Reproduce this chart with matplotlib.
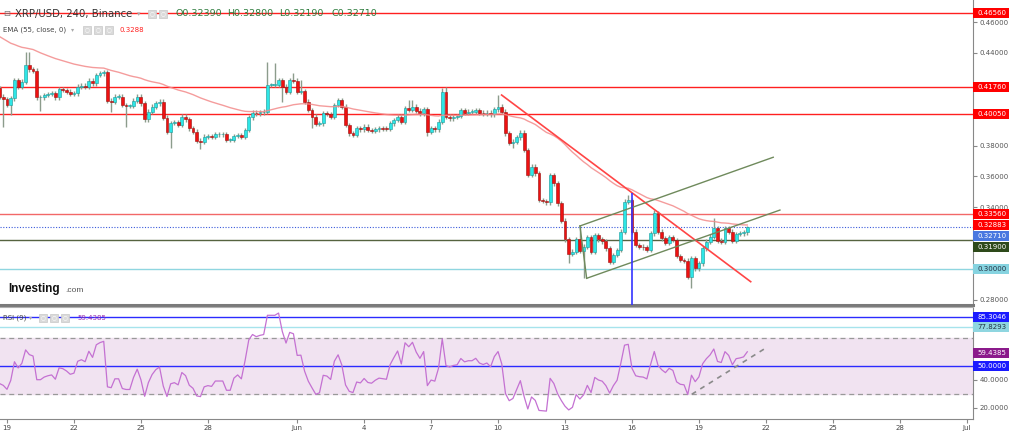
import numpy as np
import matplotlib
matplotlib.use("Agg")
import matplotlib.pyplot as plt
from matplotlib.patches import Rectangle

# 4h candles. open of each bar = previous close
first_open = 0.4170
closes = [
    0.4116, 0.4099, 0.4062, 0.4106, 0.4224, 0.4181, 0.4213, 0.4321, 0.4293, 0.4285,
    0.4112, 0.4112, 0.4127, 0.4134, 0.4138, 0.4112, 0.4164, 0.4160, 0.4149, 0.4134,
    0.4138, 0.4181, 0.4187, 0.4181, 0.4220, 0.4203, 0.4257, 0.4268, 0.4274, 0.4090,
    0.4084, 0.4117, 0.4117, 0.4062, 0.4056, 0.4056, 0.4090, 0.4117, 0.4073, 0.3970,
    0.4019, 0.4052, 0.4073, 0.4084, 0.3980, 0.3890, 0.3945, 0.3950, 0.3935, 0.3987,
    0.3970, 0.3911, 0.3890, 0.3831, 0.3825, 0.3857, 0.3861, 0.3857, 0.3872, 0.3872,
    0.3872, 0.3836, 0.3836, 0.3861, 0.3868, 0.3857, 0.3900, 0.3982, 0.4013, 0.4008,
    0.4015, 0.4019, 0.4192, 0.4192, 0.4192, 0.4224, 0.4181, 0.4149, 0.4224, 0.4220,
    0.4149, 0.4150, 0.4084, 0.4030, 0.3987, 0.3939, 0.3944, 0.4008, 0.4004, 0.3987,
    0.4062, 0.4095, 0.4052, 0.3933, 0.3879, 0.3868, 0.3911, 0.3905, 0.3922, 0.3900,
    0.3896, 0.3905, 0.3911, 0.3909, 0.3907, 0.3944, 0.3965, 0.3987, 0.3954, 0.4041,
    0.4030, 0.4052, 0.4026, 0.4008, 0.4034, 0.3890, 0.3911, 0.3905, 0.3954, 0.4149,
    0.3987, 0.3976, 0.3987, 0.3991, 0.4030, 0.4013, 0.4019, 0.4019, 0.4030, 0.4013,
    0.4008, 0.4013, 0.4002, 0.4034, 0.4052, 0.4019, 0.3879, 0.3818, 0.3825, 0.3853,
    0.3883, 0.3771, 0.3609, 0.3663, 0.3620, 0.3447, 0.3440, 0.3433, 0.3609, 0.3555,
    0.3426, 0.3313, 0.3192, 0.3097, 0.3113, 0.3192, 0.3119, 0.3145, 0.3205, 0.3113,
    0.3220, 0.3192, 0.3180, 0.3134, 0.3048, 0.3091, 0.3123, 0.3242, 0.3436, 0.3447,
    0.3242, 0.3156, 0.3145, 0.3141, 0.3123, 0.3231, 0.3361, 0.3242, 0.3199, 0.3171,
    0.3205, 0.3188, 0.3084, 0.3059, 0.3054, 0.2951, 0.3069, 0.3005, 0.3037, 0.3134,
    0.3177, 0.3210, 0.3264, 0.3184, 0.3177, 0.3264, 0.3242, 0.3184, 0.3227, 0.3232,
    0.3239, 0.3271,
]
# long wicks (bar index -> price)
wick_high = {7: 0.4404, 8: 0.4404, 72: 0.4343, 74: 0.4337, 79: 0.4268, 81: 0.4224,
             110: 0.4095, 111: 0.4095, 119: 0.4170, 120: 0.4181, 134: 0.4127,
             156: 0.3279, 169: 0.3480, 176: 0.3380, 192: 0.3328, 201: 0.3280}
wick_low = {1: 0.3918, 3: 0.3998, 11: 0.4026, 30: 0.4019, 34: 0.3918, 46: 0.3782,
            54: 0.3775, 76: 0.4084, 84: 0.3911, 115: 0.3862, 138: 0.3782,
            153: 0.3037, 157: 0.2940, 186: 0.2875, 201: 0.3219}
last_bar_day = 33.167      # Jun 21 04:00, days after May 19
bar_len = 1 / 6.0

ema_len, ema_seed = 55, 0.4520
rsi_len, rsi_seed_gain, rsi_seed_loss = 9, 0.0025, 0.0035

# horizontal levels and drawings
levels = [0.46560, 0.41760, 0.40050, 0.33560, 0.31900, 0.30000]
level_colors = ['#ff2020', '#ff2020', '#ff2020', '#f26868', '#56633f', '#8fd6e0']
ema_last = 0.32883
price_last = 0.32710
down_line = ([22.16, 33.32], [0.4127, 0.2918])
channel_top = ([25.67, 34.33], [0.3279, 0.3724])
channel_bot = ([25.97, 34.63], [0.2940, 0.3382])
channel_side = ([25.67, 25.97], [0.3279, 0.2940])
vline_day, vline_top = 28.0, 0.3491
price_ticks = [0.28, 0.34, 0.36, 0.38, 0.44, 0.46]

rsi_last = 59.4385
rsi_levels = [85.3046, 77.8293, 50.0]
rsi_trend = ([30.68, 33.92], [29.8, 62.1])
rsi_ticks = [20, 40]

ohlc = [('O', 0.32390), ('H', 0.32800), ('L', 0.32190), ('C', 0.32710)]
date_ticks = [0, 3, 6, 9, 13, 16, 19, 22, 25, 28, 31, 34, 37, 40, 43]
date_labels = ['19', '22', '25', '28', 'Jun', '4', '7', '10', '13', '16',
               '19', '22', '25', '28', 'Jul']

W, H = 1024, 433
PRICE_LIM = (0.27671, 0.47425)
RSI_LIM = (12.14, 92.14)


def fx(x):
    return x / W


def fy(y):
    return 1 - y / H


def ema(values, n, seed):
    a = 2.0 / (n + 1)
    out, e = [], seed
    for v in values:
        e = a * v + (1 - a) * e
        out.append(e)
    return np.array(out)


def rsi(values, prev, n, g0, l0):
    out, g, l = [], g0, l0
    for v in values:
        d = v - prev
        g = (g * (n - 1) + max(d, 0)) / n
        l = (l * (n - 1) + max(-d, 0)) / n
        out.append(100 - 100 / (1 + g / l))
        prev = v
    return np.array(out)


def side_label(fig, v, lim, top, height, text, bg, fg, dy=0):
    """Fixed size price tag on the right scale, dy in pixels."""
    lo, hi = lim
    yc = top + (hi - v) / (hi - lo) * height + dy
    fig.patches.append(Rectangle((fx(973), fy(yc + 5)), 36 / W, 10 / H,
                                 transform=fig.transFigure, fc=bg, ec='none',
                                 zorder=20))
    fig.text(fx(977), fy(yc), text, fontsize=5, color=fg, va='center',
             zorder=21)


def icons(fig, xs, y):
    for x in xs:
        fig.patches.append(Rectangle((fx(x), fy(y + 4)), 8 / W, 8 / H,
                                     transform=fig.transFigure, fc='#dadada',
                                     ec='#c8c8c8', lw=0.5))
        fig.text(fx(x + 4), fy(y), '\u25cb', fontsize=4, color='white',
                 ha='center', va='center')


def main():
    closes_a = np.array(closes)
    opens = np.concatenate([[first_open], closes_a[:-1]])
    n = len(closes_a)
    days = last_bar_day - bar_len * np.arange(n)[::-1]
    tops = np.maximum(opens, closes_a)
    bots = np.minimum(opens, closes_a)
    highs = tops + 0.0015
    lows = bots - 0.0015
    for i, v in wick_high.items():
        highs[i] = v
    for i, v in wick_low.items():
        lows[i] = v
    up = closes_a >= opens

    fig = plt.figure(figsize=(W / 100, H / 100), dpi=100)
    ax = fig.add_axes([0, fy(305), 973 / W, 305 / H])
    ax2 = fig.add_axes([0, fy(419), 973 / W, (419 - 307) / H], sharex=ax)

    # price panel
    ax.set_xlim((0 - 7) / 22.32, (973 - 7) / 22.32)
    ax.set_ylim(*PRICE_LIM)
    for lvl, col in zip(levels, level_colors):
        ax.axhline(lvl, color=col, lw=1, zorder=1)
    ax.axhline(price_last, color='#3b5bdb', lw=0.8, ls=(0, (1, 1.5)), zorder=1)

    ax.vlines(days, lows, highs, color='#8c9c8c', lw=1, zorder=2)
    hgt = np.maximum(tops - bots, 0.0004)
    ax.bar(days[up], hgt[up], bottom=bots[up], width=0.13, color='#2ee6e6',
           edgecolor='#1a9a9a', lw=0.4, zorder=3)
    ax.bar(days[~up], hgt[~up], bottom=bots[~up], width=0.13, color='#ee1111',
           edgecolor='#9a1010', lw=0.4, zorder=3)

    ax.plot(days, ema(closes_a, ema_len, ema_seed), color='#f38b8b', lw=1,
            alpha=0.85, zorder=4)
    ax.plot(*down_line, color='#ff4545', lw=1.2, zorder=5)
    for seg in (channel_top, channel_bot, channel_side):
        ax.plot(*seg, color='#6f8a5c', lw=1, zorder=5)
    ax.vlines(vline_day, PRICE_LIM[0], vline_top, color='#3434ff', lw=1.2,
              zorder=5)

    ax.yaxis.tick_right()
    ax.set_yticks(price_ticks)
    ax.yaxis.set_major_formatter(plt.FormatStrFormatter('%.5f'))
    ax.tick_params(axis='y', length=3, color='#888', labelsize=5,
                   labelcolor='#555', pad=2)
    ax.tick_params(axis='x', bottom=False, labelbottom=False)
    for s in ('top', 'left'):
        ax.spines[s].set_visible(False)
    ax.spines['right'].set_color('#888')
    ax.spines['bottom'].set_color('#7a7a7a')
    ax.spines['bottom'].set_linewidth(2.2)

    plab = dict(lim=PRICE_LIM, top=0, height=305)
    side_label(fig, levels[0], text='%.5f' % levels[0], bg='#ff0000', fg='white', **plab)
    side_label(fig, levels[1], text='%.5f' % levels[1], bg='#ff0000', fg='white', **plab)
    side_label(fig, levels[2], text='%.5f' % levels[2], bg='#ff0000', fg='white', **plab)
    side_label(fig, levels[3], text='%.5f' % levels[3], bg='#ff0000', fg='white', **plab)
    side_label(fig, ema_last, text='%.5f' % ema_last, bg='#ff0000', fg='white', **plab)
    side_label(fig, price_last, text='%.5f' % price_last, bg='#4a78e0', fg='white',
               dy=8.8, **plab)
    side_label(fig, levels[4], text='%.5f' % levels[4], bg='#2e4a1a', fg='white',
               dy=7.3, **plab)
    side_label(fig, levels[5], text='%.5f' % levels[5], bg='#86d3e0', fg='#223344',
               **plab)

    # RSI panel
    ax2.set_ylim(*RSI_LIM)
    ax2.axhspan(30, 70, color='#f1e3f1', zorder=0)
    ax2.axhline(70, color='#999', lw=0.9, ls=(0, (4, 3)), zorder=1)
    ax2.axhline(30, color='#999', lw=0.9, ls=(0, (4, 3)), zorder=1)
    ax2.axhline(rsi_levels[0], color='#2b2bff', lw=1, zorder=1)
    ax2.axhline(rsi_levels[1], color='#a6e3ec', lw=1, zorder=1)
    ax2.axhline(rsi_levels[2], color='#2b2bff', lw=1, zorder=1)
    ax2.plot(days, rsi(closes_a, first_open, rsi_len, rsi_seed_gain,
                       rsi_seed_loss), color='#c471d2', lw=0.9, zorder=3)
    ax2.plot(*rsi_trend, color='#8a8a8a', lw=1.2, ls=(0, (3, 3)), zorder=4)

    ax2.yaxis.tick_right()
    ax2.set_yticks(rsi_ticks)
    ax2.yaxis.set_major_formatter(plt.FormatStrFormatter('%.4f'))
    ax2.tick_params(axis='y', length=3, color='#888', labelsize=5,
                    labelcolor='#555', pad=2)
    ax2.set_xticks(date_ticks)
    ax2.set_xticklabels(date_labels)
    ax2.tick_params(axis='x', length=3, color='#888', labelsize=5,
                    labelcolor='#444', pad=1.5)
    ax2.spines['left'].set_visible(False)
    ax2.spines['top'].set_color('#b0b0b0')
    ax2.spines['top'].set_linewidth(0.8)
    ax2.spines['right'].set_color('#888')
    ax2.spines['bottom'].set_color('#888')

    rlab = dict(lim=RSI_LIM, top=307, height=112)
    side_label(fig, rsi_levels[0], text='%.4f' % rsi_levels[0], bg='#1a1aff',
               fg='white', **rlab)
    side_label(fig, rsi_levels[1], text='%.4f' % rsi_levels[1], bg='#8fd6e0',
               fg='#223344', **rlab)
    side_label(fig, rsi_last, text='%.4f' % rsi_last, bg='#8b1a8b', fg='white',
               **rlab)
    side_label(fig, rsi_levels[2], text='%.4f' % rsi_levels[2], bg='#1a1aff',
               fg='white', **rlab)

    # legends
    fig.text(fx(3), fy(14), '\u229f', fontsize=6, color='#777', va='center')
    fig.text(fx(15), fy(14), 'XRP/USD, 240, Binance', fontsize=7.3,
             color='#333', va='center')
    fig.text(fx(137), fy(14), '\u25be', fontsize=5, color='#aaa', va='center')
    icons(fig, [148, 159], 14)
    for i, (k, v) in enumerate(ohlc):
        fig.text(fx(175 + 52 * i), fy(14), '%s%.5f' % (k, v), fontsize=6.8,
                 color='#2b7a3b', va='center')

    fig.text(fx(3), fy(30), 'EMA (55, close, 0)', fontsize=5, color='#444',
             va='center')
    fig.text(fx(71), fy(30), '\u25be', fontsize=4.5, color='#aaa', va='center')
    icons(fig, [83, 94, 105], 30)
    fig.text(fx(120), fy(30), '%.4f' % ema_last, fontsize=5, color='#ff2020',
             va='center')

    fig.text(fx(3), fy(318), 'RSI (9)', fontsize=5, color='#444', va='center')
    fig.text(fx(29), fy(318), '\u25be', fontsize=4.5, color='#aaa', va='center')
    icons(fig, [39, 50, 61], 318)
    fig.text(fx(77), fy(318), '%.4f' % rsi_last, fontsize=5, color='#9b2fb0',
             va='center')

    fig.text(fx(8), fy(289), 'Investing', fontsize=8.5, fontweight='bold',
             family='Liberation Sans', color='#111', va='center')
    fig.text(fx(65), fy(291), '.com', fontsize=6, family='Liberation Sans',
             color='#555', va='center')

    fig.savefig('out.png', dpi=100)


if __name__ == '__main__':
    main()
